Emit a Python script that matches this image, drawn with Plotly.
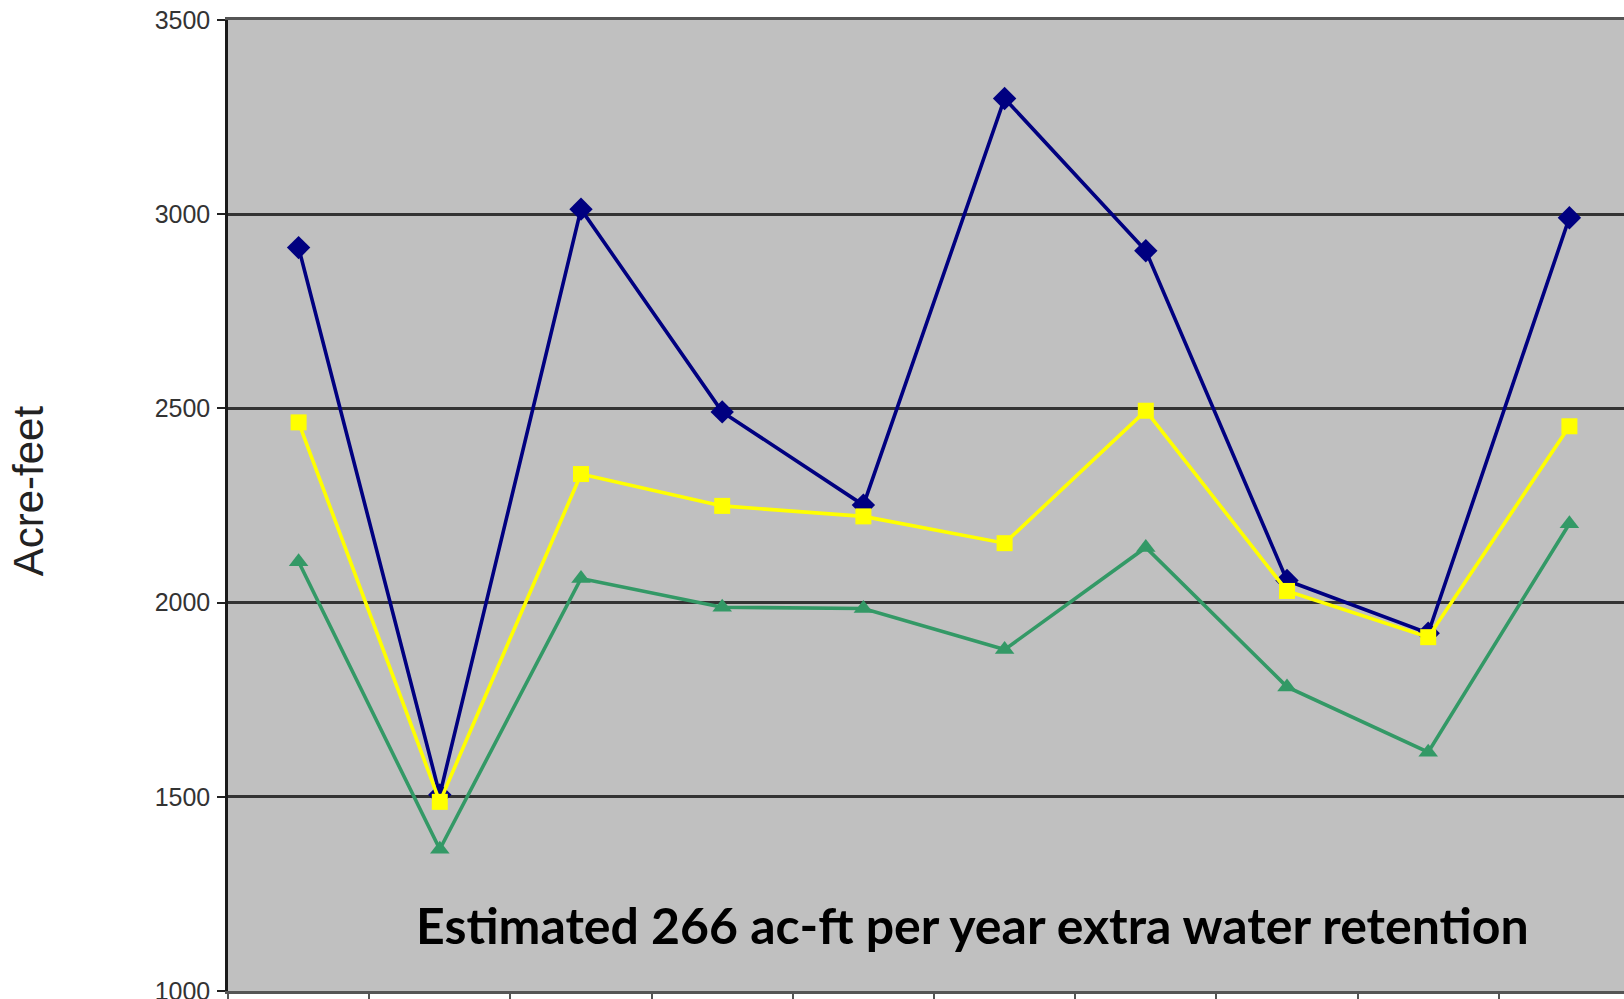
import plotly.graph_objects as go

# ---- data ----
positions = [1, 2, 3, 4, 5, 6, 7, 8, 9, 10]
series_blue = [2914, 1505, 3013, 2491, 2251, 3298, 2906, 2057, 1921, 2991]
series_yellow = [2464, 1487, 2331, 2249, 2222, 2153, 2494, 2030, 1911, 2454]
series_green = [2105, 1365, 2062, 1988, 1985, 1879, 2142, 1783, 1615, 2203]
y_ticks = [1000, 1500, 2000, 2500, 3000, 3500]
y_title = "Acre-feet"
note = "Estimated 266 ac-ft per year extra water retention"

W, H = 1624, 999
L, T, B = 228, 19.5, 8
spacing = 141.2
x_lo = positions[0] - 0.5
x_hi = x_lo + (W - L) / spacing

fig = go.Figure()
fig.add_trace(go.Scatter(
    x=positions, y=series_blue, mode="lines+markers",
    line=dict(color="#000080", width=3.6),
    marker=dict(symbol="diamond", size=18, color="#000080"),
    showlegend=False, cliponaxis=False))
fig.add_trace(go.Scatter(
    x=positions, y=series_yellow, mode="lines+markers",
    line=dict(color="#FFFF00", width=3.6),
    marker=dict(symbol="square", size=16, color="#FFFF00"),
    showlegend=False, cliponaxis=False))
fig.add_trace(go.Scatter(
    x=positions, y=series_green, mode="lines+markers",
    line=dict(color="#339966", width=3.6),
    marker=dict(symbol="triangle-up", size=17, color="#339966"),
    showlegend=False, cliponaxis=False))

fig.update_layout(
    width=W, height=H,
    margin=dict(l=L, r=0, t=T, b=B, pad=0, autoexpand=False),
    paper_bgcolor="white",
    plot_bgcolor="#C0C0C0",
    font=dict(family="Liberation Sans, Arial, sans-serif", color="#333333"),
)

fig.update_xaxes(
    range=[x_lo, x_hi],
    automargin=False,
    tickmode="array",
    tickvals=[p - 0.5 for p in positions] + [positions[-1] + 0.5],
    showticklabels=False,
    ticks="outside", ticklen=10, tickwidth=2, tickcolor="#555555",
    showgrid=False, zeroline=False,
    showline=True, linecolor="#555555", linewidth=3, mirror=True,
)

fig.update_yaxes(
    range=[y_ticks[0], y_ticks[-1]],
    automargin=False,
    tickmode="array", tickvals=y_ticks,
    ticktext=[str(v) for v in y_ticks],
    tickfont=dict(family="Liberation Sans, Arial, sans-serif", size=25, color="#333333"),
    ticks="outside", ticklen=8, tickwidth=2, tickcolor="#222222",
    ticklabelstandoff=2,
    ticklabeloverflow="allow",
    showgrid=True, gridcolor="#333333", gridwidth=2.5,
    zeroline=False,
    showline=True, linecolor="#1a1a1a", linewidth=2.5,
)

plot_w = W - L
plot_h = H - T - B
bottom = H - B
fig.add_annotation(
    text=y_title, textangle=-90, showarrow=False,
    xref="paper", yref="paper",
    x=(28 - L) / plot_w, y=(bottom - 491) / plot_h,
    xanchor="center", yanchor="middle",
    font=dict(family="Liberation Sans, Arial, sans-serif", size=42, color="#222222"),
)
fig.add_annotation(
    text="<b>" + note + "</b>", showarrow=False,
    xref="paper", yref="paper",
    x=(972 - L) / plot_w, y=(bottom - 925) / plot_h,
    xanchor="center", yanchor="middle",
    font=dict(family="Lato, sans-serif", size=50, color="#000000"),
)

fig.write_html(
    "out.html",
    config={"displayModeBar": False},
    post_script="document.body.style.margin='0';document.body.style.overflow='hidden';",
)
